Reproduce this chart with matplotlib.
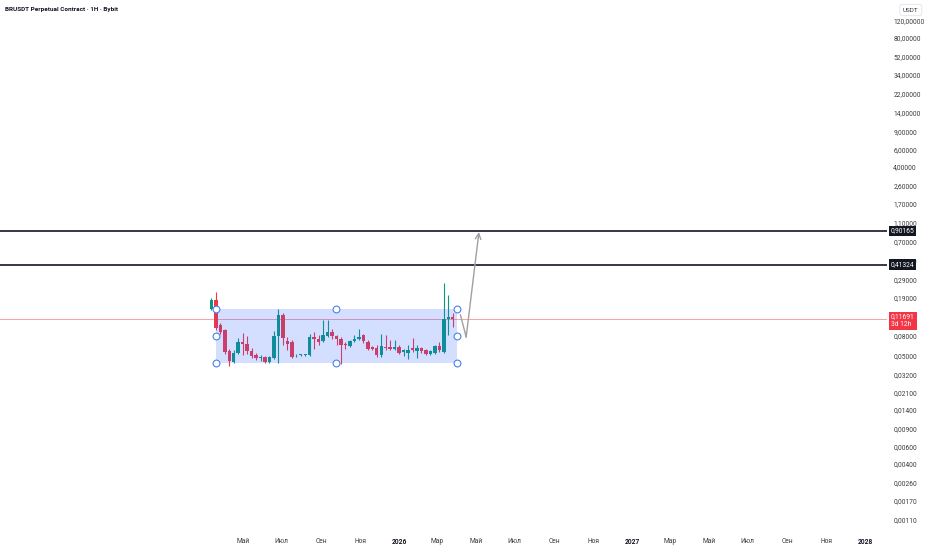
import matplotlib
matplotlib.use("Agg")
import matplotlib.pyplot as plt
import matplotlib.dates as mdates
import matplotlib.transforms as mtransforms
import pandas as pd

# weekly candles, BRUSDT
dates = pd.date_range("2025-03-13", periods=55, freq="7D")
opens = [0.1471, 0.1814, 0.1014, 0.0903, 0.0554, 0.0429, 0.0529, 0.0683, 0.0652, 0.0554,
         0.0505, 0.0471, 0.0482, 0.0429, 0.0471, 0.0785, 0.1280, 0.0699, 0.0683, 0.0499,
         0.0505, 0.0505, 0.0505, 0.0767, 0.0732, 0.0699, 0.0785, 0.0862, 0.0785, 0.0732,
         0.0652, 0.0622, 0.0699, 0.0732, 0.0804, 0.0683, 0.0608, 0.0594, 0.0505, 0.0608,
         0.0608, 0.0580, 0.0608, 0.0541, 0.0533, 0.0594, 0.0554, 0.0594, 0.0567, 0.0517,
         0.0529, 0.0622, 0.0541, 0.1166, 0.1221]
closes = [0.1814, 0.0946, 0.0862, 0.0541, 0.0439, 0.0529, 0.0683, 0.0652, 0.0554, 0.0493,
          0.0471, 0.0482, 0.0429, 0.0482, 0.0785, 0.1280, 0.0750, 0.0652, 0.0482, 0.0505,
          0.0511, 0.0511, 0.0767, 0.0732, 0.0683, 0.0804, 0.0862, 0.0785, 0.0732, 0.0637,
          0.0637, 0.0699, 0.0732, 0.0767, 0.0699, 0.0580, 0.0580, 0.0505, 0.0622, 0.0594,
          0.0580, 0.0608, 0.0533, 0.0567, 0.0567, 0.0567, 0.0594, 0.0554, 0.0517, 0.0554,
          0.0622, 0.0567, 0.1166, 0.1221, 0.1169]
highs = [0.1900, 0.2184, 0.1062, 0.0924, 0.0580, 0.0567, 0.0750, 0.0842, 0.0785, 0.0594,
         0.0529, 0.0505, 0.0493, 0.0493, 0.0882, 0.1471, 0.1340, 0.0767, 0.0716, 0.0517,
         0.0517, 0.0517, 0.0823, 0.0862, 0.0804, 0.1139, 0.1139, 0.0924, 0.0804, 0.0767,
         0.0683, 0.0716, 0.0804, 0.0924, 0.0823, 0.0716, 0.0622, 0.0637, 0.0823, 0.0804,
         0.0716, 0.0716, 0.0637, 0.0580, 0.0637, 0.0750, 0.0637, 0.0608, 0.0580, 0.0567,
         0.0637, 0.0683, 0.2693, 0.2037, 0.1340]
lows = [0.1437, 0.0903, 0.0823, 0.0517, 0.0391, 0.0419, 0.0517, 0.0505, 0.0517, 0.0471,
        0.0449, 0.0439, 0.0419, 0.0419, 0.0460, 0.0419, 0.0637, 0.0567, 0.0471, 0.0482,
        0.0493, 0.0493, 0.0493, 0.0580, 0.0637, 0.0683, 0.0767, 0.0732, 0.0637, 0.0409,
        0.0580, 0.0608, 0.0683, 0.0716, 0.0667, 0.0567, 0.0567, 0.0482, 0.0482, 0.0567,
        0.0567, 0.0567, 0.0517, 0.0493, 0.0460, 0.0541, 0.0471, 0.0529, 0.0505, 0.0505,
        0.0517, 0.0541, 0.0529, 0.0804, 0.0968]

levels = [0.90165, 0.41324]
last_price = 0.11691

price_ticks = [120, 80, 52, 34, 22, 14, 9, 6, 4, 2.6, 1.7, 1.1, 0.7, 0.45, 0.29, 0.19,
               0.08, 0.05, 0.032, 0.021, 0.014, 0.009, 0.006, 0.004, 0.0026,
               0.0017, 0.0011]

month_ticks = ["2025-05-01", "2025-07-01", "2025-09-01", "2025-11-01", "2026-01-01",
               "2026-03-01", "2026-05-01", "2026-07-01", "2026-09-01", "2026-11-01",
               "2027-01-01", "2027-03-01", "2027-05-01", "2027-07-01", "2027-09-01",
               "2027-11-01", "2028-01-01"]
month_labels = ["Май", "Июл", "Сен", "Ноя", "2026", "Мар", "Май", "Июл", "Сен", "Ноя",
                "2027", "Мар", "Май", "Июл", "Сен", "Ноя", "2028"]

# range box and projection path
box_start, box_end = "2025-03-20", "2026-04-01"
box_top, box_bottom = 0.148, 0.042
path_dates = ["2026-04-07", "2026-04-16", "2026-05-06"]
path_prices = [0.128, 0.0767, 0.88]

GREEN = "#089981"
RED = "#f23645"
TXT = "#3b3b3b"

plt.rcParams["font.family"] = ["Roboto", "DejaVu Sans"]

fig = plt.figure(figsize=(9.32, 5.5), dpi=100)
ax = fig.add_axes([0, 18 / 550, 887 / 932, 532 / 550])
ax.set_yscale("log")
ax.set_xlim(pd.Timestamp("2024-04-16"), pd.Timestamp("2028-02-04"))
ax.set_ylim(0.000823, 194)

x = mdates.date2num(dates)
colors = [GREEN if c >= o else RED for o, c in zip(opens, closes)]
bottoms = [min(o, c) for o, c in zip(opens, closes)]
heights = [max(abs(c - o), min(o, c) * 0.015) for o, c in zip(opens, closes)]
ax.vlines(x, lows, highs, colors=colors, lw=0.8, zorder=2)
ax.bar(x, heights, bottom=bottoms, width=5.4, color=colors, zorder=3, linewidth=0)

# range rectangle
bx0, bx1 = mdates.date2num(pd.Timestamp(box_start)), mdates.date2num(pd.Timestamp(box_end))
ax.fill_between([bx0, bx1], box_bottom, box_top, color="#2962ff", alpha=0.2,
                linewidth=0, zorder=4)
bmid = (box_top * box_bottom) ** 0.5
hx = [bx0, (bx0 + bx1) / 2, bx1, bx0, bx1, bx0, (bx0 + bx1) / 2, bx1]
hy = [box_top, box_top, box_top, bmid, bmid, box_bottom, box_bottom, box_bottom]
ax.scatter(hx, hy, s=24, facecolor="white", edgecolor="#4a7ef0", lw=0.8, zorder=6)

# horizontal levels
for lv in levels:
    ax.axhline(lv, color="#131722", lw=1.2, zorder=5)
ax.axhline(last_price, color="#f8a0aa", lw=0.7, zorder=1)

# projection path
pd_num = [mdates.date2num(pd.Timestamp(d)) for d in path_dates]
ax.plot(pd_num[:2], path_prices[:2], color="#a0a0a0", lw=1, zorder=5)
ax.annotate("", xy=(pd_num[2], path_prices[2]), xytext=(pd_num[1], path_prices[1]),
            arrowprops=dict(arrowstyle="->", color="#a0a0a0", lw=1, mutation_scale=10,
                            shrinkA=0, shrinkB=0), zorder=5)

# axes styling
for sp in ax.spines.values():
    sp.set_visible(False)
ax.yaxis.tick_right()
ax.yaxis.set_major_locator(matplotlib.ticker.FixedLocator(price_ticks))
ax.yaxis.set_minor_locator(matplotlib.ticker.NullLocator())
ax.set_yticklabels([f"{t:.5f}".replace(".", ",") for t in price_ticks])
ax.tick_params(axis="y", length=0, pad=4.5, labelsize=4.8, labelcolor=TXT)

xt = [mdates.date2num(pd.Timestamp(d)) for d in month_ticks]
ax.set_xticks(xt)
ax.set_xticklabels(month_labels)
ax.tick_params(axis="x", length=0, pad=4, labelsize=4.8, labelcolor=TXT)
for lab in ax.get_xticklabels():
    if lab.get_text().isdigit():
        lab.set_fontweight("bold")
        lab.set_color("#131722")

# price boxes on the scale
trans = mtransforms.blended_transform_factory(ax.transAxes, ax.transData)
for lv in levels:
    ax.text(1.0045, lv, f"{lv:.5f}".replace(".", ","), transform=trans, ha="left",
            va="center", fontsize=4.8, color="white", clip_on=False, zorder=10,
            bbox=dict(boxstyle="square,pad=0.25", fc="#131722", ec="none"))
ax.text(1.0045, last_price * 0.955, f"{last_price:.5f}".replace(".", ",") + "\n3d 12h",
        transform=trans, ha="left", va="center", fontsize=4.8, color="white",
        linespacing=1.1, clip_on=False, zorder=10,
        bbox=dict(boxstyle="square,pad=0.3", fc=RED, ec="none"))

# header texts
fig.text(5 / 932, 1 - 9 / 550, "BRUSDT Perpetual Contract · 1H · Bybit", ha="left",
         va="center", fontsize=4.6, fontweight="bold", color="#131722")
fig.text(903 / 932, 1 - 10 / 550, "USDT", ha="left", va="center", fontsize=4.6,
         color=TXT, bbox=dict(boxstyle="round,pad=0.5,rounding_size=0.4", fc="white",
                              ec="#e0e3eb", lw=0.6))

fig.savefig("out.png", dpi=100)
